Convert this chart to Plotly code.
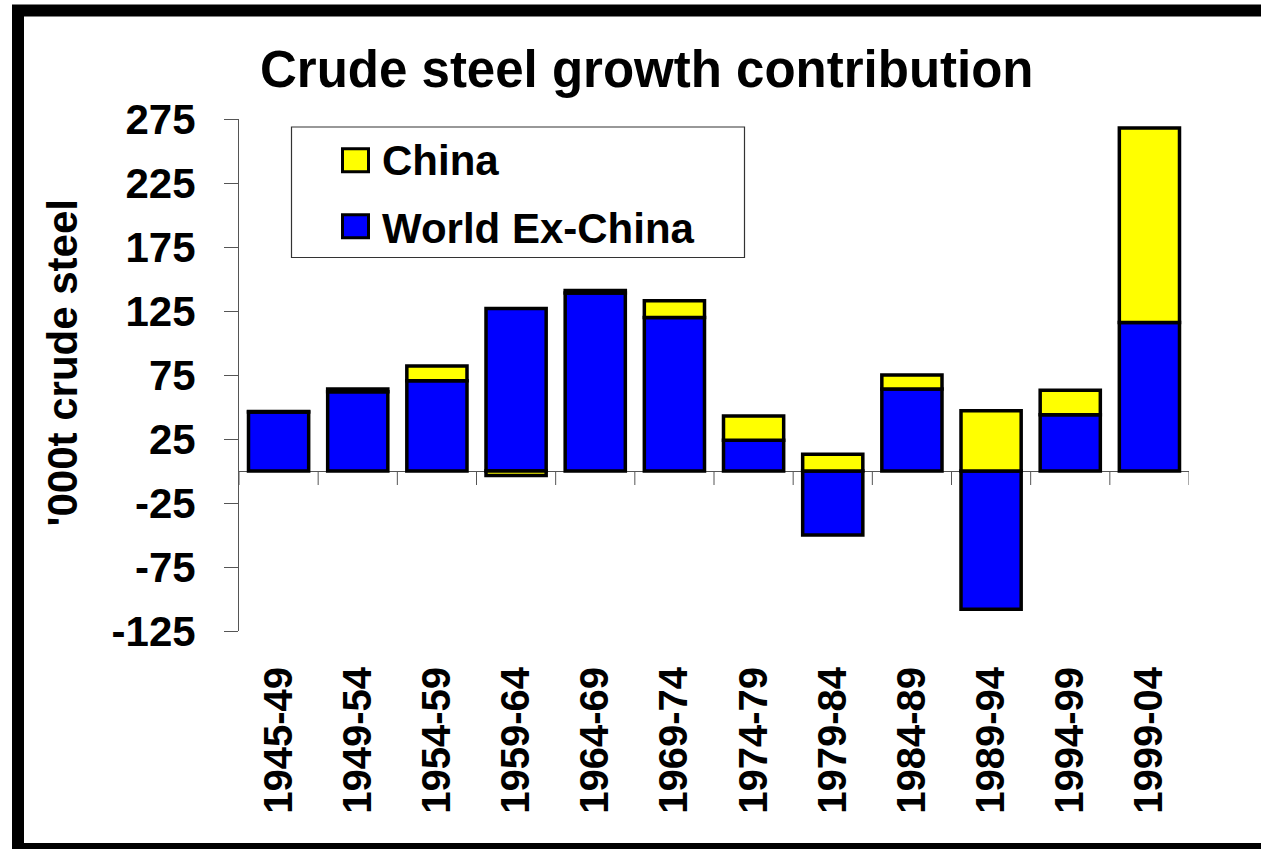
import plotly.graph_objects as go

# Five-year periods and each region's contribution to crude steel growth
periods = ["1945-49", "1949-54", "1954-59", "1959-64", "1964-69", "1969-74",
           "1974-79", "1979-84", "1984-89", "1989-94", "1994-99", "1999-04"]
world_ex_china = [46, 62, 70.5, 127, 139, 120, 24, -50, 64, -108, 44, 116]
china = [0.5, 2, 11.5, -3.5, 2, 13, 19, 13, 11, 47, 19, 152]

y_ticks = [275, 225, 175, 125, 75, 25, -25, -75, -125]
y_range = [-125, 275]

W, H = 1261, 849
L, R, T, B = 239, 72, 119, 218
PW, PH = W - L - R, H - T - B

FONT = "Arial, Liberation Sans, Helvetica, sans-serif"
YELLOW, BLUE = "#FFFF00", "#0000FF"
AXIS_GREY = "#555555"


def px_x(x):
    return (x - L) / PW


def px_y(y):
    return (H - B - y) / PH


fig = go.Figure()
fig.add_trace(go.Bar(x=periods, y=world_ex_china, name="World Ex-China",
                     marker=dict(color=BLUE, line=dict(color="black", width=3.5)),
                     showlegend=False))
fig.add_trace(go.Bar(x=periods, y=china, name="China",
                     marker=dict(color=YELLOW, line=dict(color="black", width=3.5)),
                     showlegend=False))

n = len(periods)

shapes = [
    # outer frame
    dict(type="rect", xref="paper", yref="paper",
         x0=px_x(18), x1=px_x(1276), y0=px_y(849), y1=px_y(10.5),
         line=dict(color="black", width=12), fillcolor="rgba(0,0,0,0)", layer="above"),
    # legend box
    dict(type="rect", xref="paper", yref="paper",
         x0=px_x(291.5), x1=px_x(744.5), y0=px_y(257.5), y1=px_y(127),
         line=dict(color="#333333", width=1.2), fillcolor="white", layer="above"),
    # legend swatches
    dict(type="rect", xref="paper", yref="paper",
         x0=px_x(342.5), x1=px_x(368.5), y0=px_y(171.8), y1=px_y(148.8),
         line=dict(color="black", width=3), fillcolor=YELLOW, layer="above"),
    dict(type="rect", xref="paper", yref="paper",
         x0=px_x(342.5), x1=px_x(368.5), y0=px_y(237.8), y1=px_y(214.8),
         line=dict(color="black", width=3), fillcolor=BLUE, layer="above"),
]

# category-boundary tick marks hanging below the zero line
for i in range(n + 1):
    shapes.append(dict(type="line", xref="x", yref="y", ysizemode="pixel", yanchor=0,
                       x0=i - 0.5, x1=i - 0.5, y0=0, y1=-14,
                       line=dict(color=AXIS_GREY, width=1), layer="below"))

annotations = [
    dict(text="Crude steel growth contribution", xref="paper", yref="paper",
         x=px_x(647), y=px_y(69), xanchor="center", yanchor="middle", showarrow=False,
         font=dict(family=FONT, size=51, color="black", weight="bold")),
    dict(text="'000t crude steel", xref="paper", yref="paper", textangle=-90,
         x=px_x(61.5), y=px_y(363), xanchor="center", yanchor="middle", showarrow=False,
         font=dict(family=FONT, size=42, color="black", weight="bold")),
    dict(text="China", xref="paper", yref="paper",
         x=px_x(380), y=px_y(160), xanchor="left", yanchor="middle", showarrow=False,
         font=dict(family=FONT, size=42, color="black", weight="bold")),
    dict(text="World Ex-China", xref="paper", yref="paper",
         x=px_x(380), y=px_y(228), xanchor="left", yanchor="middle", showarrow=False,
         font=dict(family=FONT, size=42, color="black", weight="bold")),
]

fig.update_layout(
    width=W, height=H,
    margin=dict(l=L, r=R, t=T, b=B, pad=0),
    paper_bgcolor="white", plot_bgcolor="white",
    barmode="relative", bargap=0.24,
    showlegend=False,
    shapes=shapes, annotations=annotations,
    xaxis=dict(type="category", categoryorder="array", categoryarray=periods,
               range=[-0.5, n - 0.5], showline=False, showgrid=False, zeroline=False,
               ticks="", tickangle=-90, ticklabelstandoff=27,
               tickfont=dict(family=FONT, size=40, color="black", weight="bold")),
    yaxis=dict(range=y_range, tickvals=y_ticks, ticktext=[str(v) for v in y_ticks],
               ticks="outside", ticklen=14, tickwidth=1, tickcolor=AXIS_GREY,
               showline=True, linecolor=AXIS_GREY, linewidth=1,
               showgrid=False, zeroline=True, zerolinecolor=AXIS_GREY, zerolinewidth=1,
               ticklabelstandoff=20,
               tickfont=dict(family=FONT, size=42, color="black", weight="bold")),
)

fig.write_html("out.html")
